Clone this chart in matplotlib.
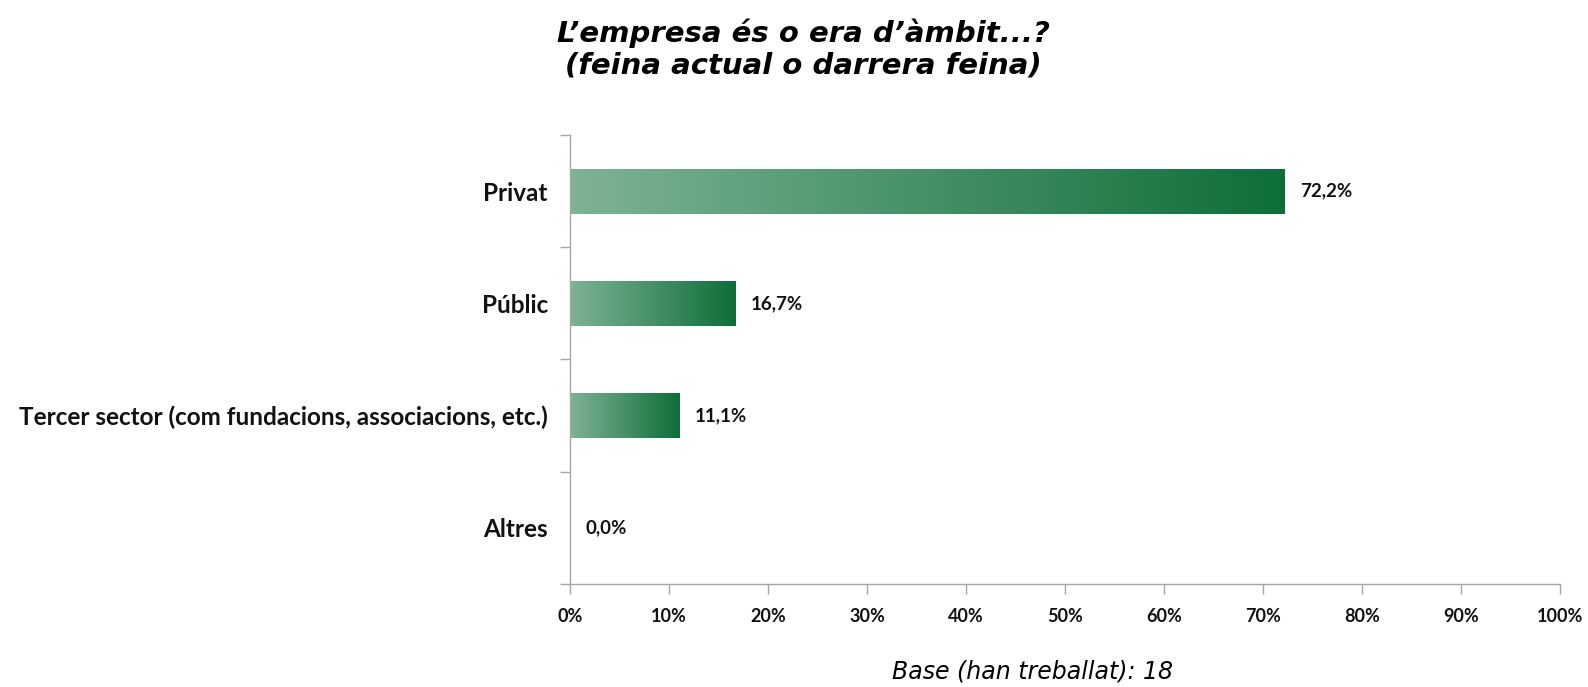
import matplotlib
matplotlib.use("Agg")
import matplotlib.pyplot as plt
import numpy as np
from matplotlib.colors import LinearSegmentedColormap

categories = ["Privat", "Públic", "Tercer sector (com fundacions, associacions, etc.)", "Altres"]
values = [72.2, 16.7, 11.1, 0.0]
value_labels = ["72,2%", "16,7%", "11,1%", "0,0%"]
xticks = [0, 10, 20, 30, 40, 50, 60, 70, 80, 90, 100]
xtick_labels = [f"{t}%" for t in xticks]

W, H = 1588, 687
fig = plt.figure(figsize=(W / 100, H / 100), dpi=100)
ax = fig.add_axes([570 / W, 1 - 584 / H, (1560 - 570) / W, (584 - 135) / H])

lab_font = dict(family=["Lato", "DejaVu Sans"], weight="bold")
cmap = LinearSegmentedColormap.from_list("g", ["#7EB395", "#0E6E38"])
grad = np.linspace(0, 1, 256).reshape(1, -1)

n = len(categories)
ypos = np.arange(n)
bars = ax.barh(ypos, values, height=0.4, color="none", edgecolor="none")
for b in bars:
    x0, y0 = b.get_x(), b.get_y()
    w, h = b.get_width(), b.get_height()
    if w <= 0:
        continue
    im = ax.imshow(grad, cmap=cmap, aspect="auto", extent=(x0, x0 + w, y0 + h, y0),
                   interpolation="bilinear", zorder=2)
    im.set_clip_path(b)

for y, v, lab in zip(ypos, values, value_labels):
    ax.annotate(lab, (v, y), xytext=(11, 0), textcoords="offset points",
                va="center", ha="left", fontsize=13.5, color="#111111", **lab_font)

ax.set_xlim(0, 100)
ax.set_ylim(n - 0.5, -0.5)
ax.set_xticks(xticks)
ax.set_xticklabels(xtick_labels, fontsize=13, color="#111111", **lab_font)
ax.set_yticks(ypos)
ax.set_yticklabels(categories, fontsize=17.5, color="#111111", **lab_font)
ax.tick_params(axis="y", which="major", length=0, pad=16)
ax.set_yticks(np.arange(-0.5, n, 1), minor=True)
ax.tick_params(axis="y", which="minor", length=7, color="#A6A6A6", width=1)
ax.tick_params(axis="x", which="major", length=7, color="#A6A6A6", width=1, pad=10)

for s in ["top", "right"]:
    ax.spines[s].set_visible(False)
for s in ["left", "bottom"]:
    ax.spines[s].set_color("#A6A6A6")
    ax.spines[s].set_linewidth(1)

fig.text(803 / W, 1 - 49 / H, "L’empresa és o era d’àmbit...?\n(feina actual o darrera feina)",
         ha="center", va="center", fontsize=21, fontweight="bold", fontstyle="italic",
         family="DejaVu Sans", linespacing=1.15)
fig.text(1033 / W, 1 - 671 / H, "Base (han treballat): 18", ha="center", va="center",
         fontsize=17, fontstyle="italic", family="DejaVu Sans")

fig.savefig("out.png", dpi=100)
